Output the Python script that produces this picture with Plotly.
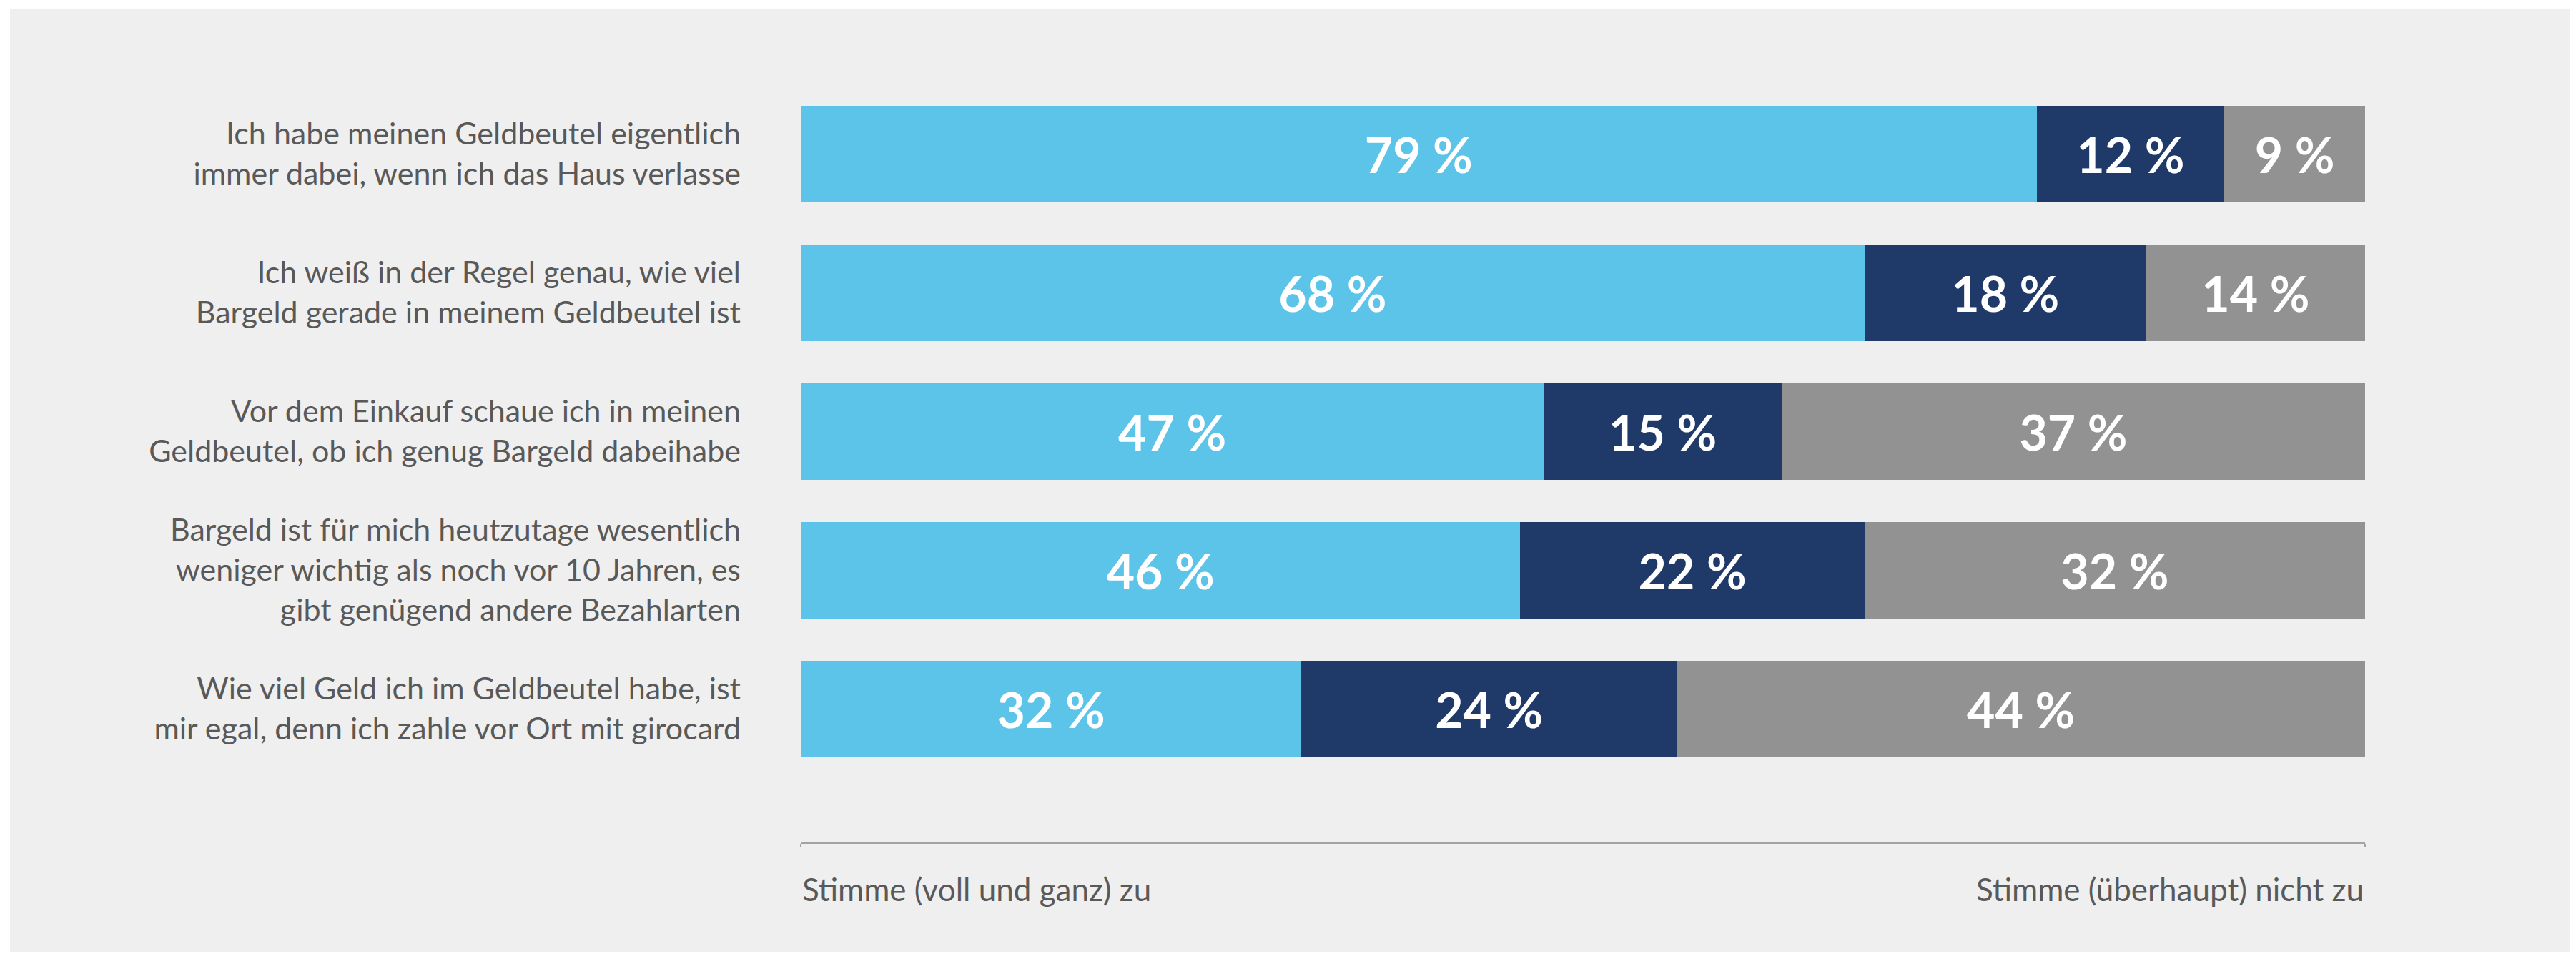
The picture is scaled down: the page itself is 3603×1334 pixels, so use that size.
import plotly.graph_objects as go

statements = [
    "Ich habe meinen Geldbeutel eigentlich<br>immer dabei, wenn ich das Haus verlasse",
    "Ich weiß in der Regel genau, wie viel<br>Bargeld gerade in meinem Geldbeutel ist",
    "Vor dem Einkauf schaue ich in meinen<br>Geldbeutel, ob ich genug Bargeld dabeihabe",
    "Bargeld ist für mich heutzutage wesentlich<br>weniger wichtig als noch vor 10 Jahren, es<br>gibt genügend andere Bezahlarten",
    "Wie viel Geld ich im Geldbeutel habe, ist<br>mir egal, denn ich zahle vor Ort mit girocard",
]

# bar lengths (row 3 is not rounded in the source)
agree = [79, 68, 47.5, 46, 32]
neutral = [12, 18, 15.2, 22, 24]
disagree = [9, 14, 37.3, 32, 44]

# printed labels
agree_lbl = [79, 68, 47, 46, 32]
neutral_lbl = [12, 18, 15, 22, 24]
disagree_lbl = [9, 14, 37, 32, 44]

series_names = ["Stimme (voll und ganz) zu", "Teils/teils", "Stimme (überhaupt) nicht zu"]
series_colors = ["#5cc4e9", "#1f3968", "#929292"]
end_labels = ["Stimme (voll und ganz) zu", "Stimme (überhaupt) nicht zu"]

# page body has an 8px margin, so work in page pixels minus OFF
OFF = 8
W, H = 3603 - OFF, 1334 - OFF
L, R = 1120 - OFF, 3308 - OFF      # plot area left / right
T, B = 118 - OFF, 1178 - OFF       # plot area top / axis line
PITCH = 194                        # px per category

FONT = "Lato"
TXT = "#595959"

fig = go.Figure()
for name, vals, lbls, col in zip(series_names, [agree, neutral, disagree],
                                 [agree_lbl, neutral_lbl, disagree_lbl], series_colors):
    fig.add_trace(go.Bar(
        y=statements, x=vals, name=name, orientation="h",
        marker=dict(color=col, line=dict(width=0)),
        text=[f"{v} %" for v in lbls],
        textposition="inside", insidetextanchor="middle", textangle=0,
        constraintext="none",
        textfont=dict(family=FONT, size=68, color="white", weight="bold"),
        hoverinfo="skip",
    ))

# panel background
px_x = lambda p: (p - OFF - L) / (R - L)
px_y = lambda p: (B - (p - OFF)) / (B - T)
fig.add_shape(type="rect", xref="paper", yref="paper", layer="below",
              x0=px_x(14), x1=px_x(3600), y0=px_y(1331), y1=px_y(13),
              fillcolor="#efefef", line_width=0)

for xv, anchor, lbl in zip([0, 100], ["left", "right"], end_labels):
    fig.add_annotation(x=xv, xref="x", y=px_y(1243), yref="paper",
                       text=lbl, showarrow=False, xanchor=anchor, yanchor="middle",
                       font=dict(family=FONT, size=44, color=TXT))

fig.update_layout(
    width=W, height=H,
    barmode="stack", bargap=1 - 135 / PITCH,
    showlegend=False,
    paper_bgcolor="white", plot_bgcolor="rgba(0,0,0,0)",
    margin=dict(l=L, r=W - R, t=T, b=H - B, pad=0),
    xaxis=dict(range=[0, 100], showgrid=False, zeroline=False,
               showline=True, linecolor="#a3a3a3", linewidth=2,
               tickvals=[0, 100], ticks="outside", ticklen=5, tickwidth=2,
               tickcolor="#a3a3a3", showticklabels=False, fixedrange=True),
    yaxis=dict(range=[-0.5 + (B - T) / PITCH, -0.5],
               showgrid=False, zeroline=False, showline=False, ticks="",
               ticklabelstandoff=83,
               tickfont=dict(family=FONT, size=43, color=TXT), fixedrange=True),
)

fig.write_html("out.html")
